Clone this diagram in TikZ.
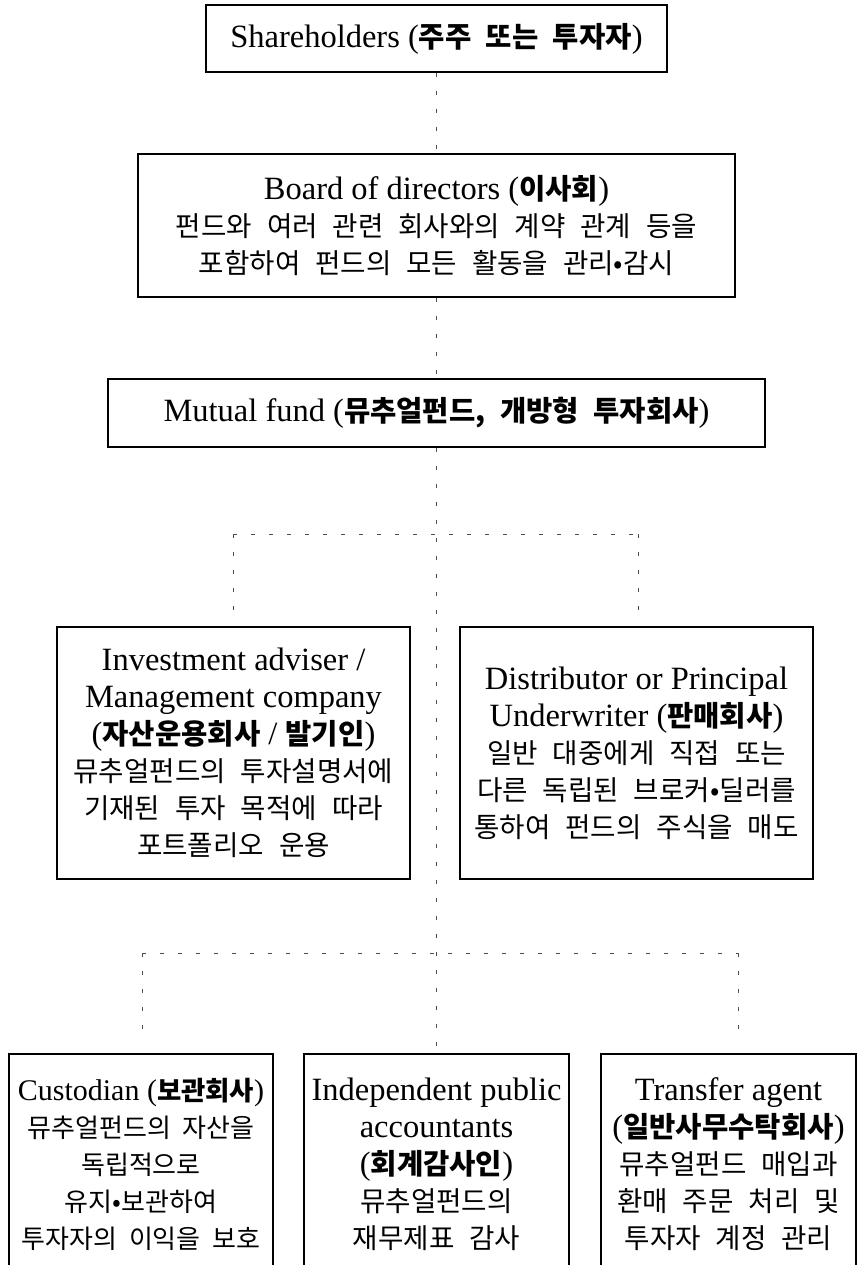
\documentclass[tikz,border=0pt]{standalone}
\usepackage{fontspec}
\setmainfont{Liberation Serif}
\newfontfamily\kordesc{Noto Sans CJK KR}[Scale=0.85,WordSpace=2.4]
\newfontfamily\kordescs{Noto Sans CJK KR}[Scale=0.80,WordSpace=2.0]
\newfontfamily\korhead{Noto Sans CJK KR}[Scale=0.88,WordSpace=2.2]
\newcommand\kd[1]{{\kordesc #1}}
\newcommand\kds[1]{{\kordescs #1}}
\newcommand\kh[1]{{\korhead\bfseries #1}}
\begin{document}
\begin{tikzpicture}[x=1pt,y=-1pt,
  box/.style={draw=black, line width=1.2pt, inner sep=0pt, align=center,
    font=\fontsize{32.5}{37}\selectfont},
  con/.style={line width=1pt, black!70, dash pattern=on 4pt off 14pt}]
\useasboundingbox (0,0) rectangle (857,1265);
\clip (0,0) rectangle (857,1265);
% top level
\node[box, minimum width=461pt, minimum height=67pt] (sh) at (436.5,38.5)
  {Shareholders (\kh{주주 또는 투자자})};
\node[box, minimum width=597pt, minimum height=143pt] (bd) at (436.5,225.5)
  {Board of directors (\kh{이사회})\\
   \kd{펀드와 여러 관련 회사와의 계약 관계 등을}\\
   \kd{포함하여 펀드의 모든 활동을 관리•감시}};
\node[box, minimum width=657pt, minimum height=68pt] (mf) at (436.5,413)
  {Mutual fund (\kh{뮤추얼펀드, 개방형 투자회사})};
% middle level
\node[box, minimum width=353pt, minimum height=252pt] (ia) at (233.5,753)
  {Investment adviser /\\
   Management company\\
   (\kh{자산운용회사} / \kh{발기인})\\
   \kd{뮤추얼펀드의 투자설명서에}\\
   \kd{기재된 투자 목적에 따라}\\
   \kd{포트폴리오 운용}};
\node[box, minimum width=353pt, minimum height=252pt] (ds) at (636.5,753)
  {Distributor or Principal\\
   Underwriter (\kh{판매회사})\\
   \kd{일반 대중에게 직접 또는}\\
   \kd{다른 독립된 브로커•딜러를}\\
   \kd{통하여 펀드의 주식을 매도}};
% bottom level (boxes run past the lower edge)
\node[box, minimum width=264pt, minimum height=220pt] (cu) at (141,1164)
  {{\fontsize{30}{37}\selectfont Custodian (\kh{보관회사})}\\
   \kds{뮤추얼펀드의 자산을}\\
   \kds{독립적으로}\\
   \kds{유지•보관하여}\\
   \kds{투자자의 이익을 보호}};
\node[box, minimum width=265pt, minimum height=220pt] (ip) at (436.5,1164)
  {Independent public\\
   accountants\\
   (\kh{회계감사인})\\
   \kd{뮤추얼펀드의}\\
   \kd{재무제표 감사}};
\node[box, minimum width=255pt, minimum height=220pt] (ta) at (728.5,1164)
  {Transfer agent\\
   (\kh{일반사무수탁회사})\\
   \kd{뮤추얼펀드 매입과}\\
   \kd{환매 주문 처리 및}\\
   \kd{투자자 계정 관리}};
% junctions
\coordinate (jl) at (233,534);
\coordinate (jr) at (638,534);
\coordinate (kl) at (142,953);
\coordinate (kr) at (738,953);
% connectors
\draw[con] (sh.south) -- (bd.north);
\draw[con] (bd.south) -- (mf.north);
\draw[con] (mf.south) -- (ip.north);
\draw[con] (jl) -- (jr);
\draw[con] (jl) -- ([yshift=14pt]ia.north -| jl);
\draw[con] (jr) -- ([yshift=14pt]ds.north -| jr);
\draw[con] (kl) -- (kr);
\draw[con] (kl) -- ([yshift=17pt]cu.north -| kl);
\draw[con] (kr) -- ([yshift=17pt]ta.north -| kr);
\end{tikzpicture}
\end{document}
